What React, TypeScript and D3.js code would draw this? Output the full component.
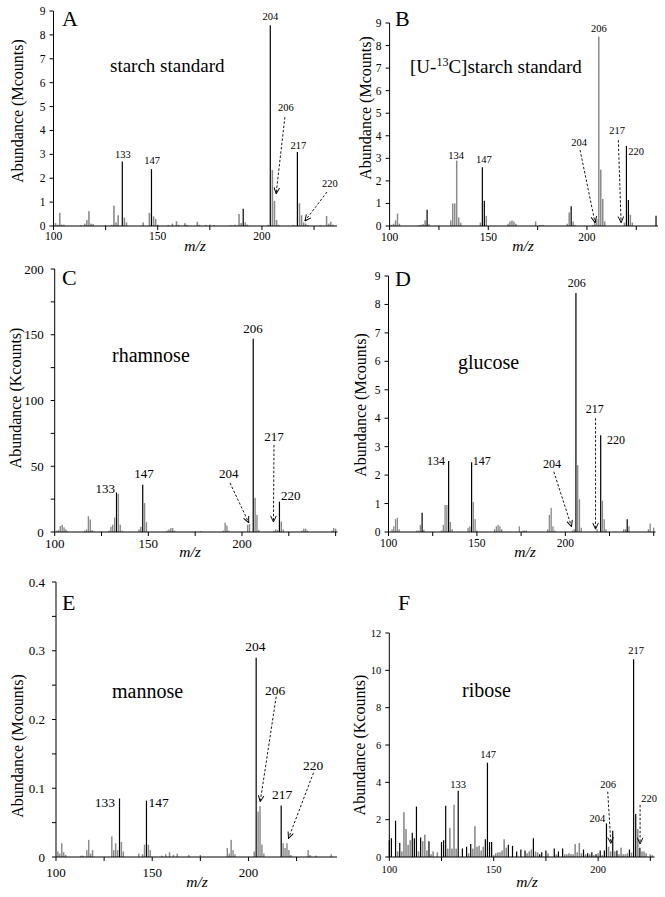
import React from "react";
import * as d3 from "d3";

type Pt = [number, number];
type Anchor = "start" | "middle" | "end";
interface Ann { text: string; mz: number; v: number; anchor?: Anchor }
interface Arrow { from: Pt; to: Pt }

// ---------- DATA (m/z, abundance) ----------
const aGrey: Pt[] = [[101,0.12],[102,0.05],[103,0.55],[104,0.06],[105,0.05],[113,0.03],[115,0.1],[116,0.25],[117,0.62],[118,0.1],[119,0.08],[125,0.03],[128,0.05],[129,0.85],[130,0.15],[131,0.45],[134,0.35],[135,0.15],[143,0.15],[146,0.55],[148,0.4],[149,0.3],[150,0.05],[155,0.04],[157,0.1],[159,0.2],[160,0.05],[163,0.12],[164,0.05],[169,0.18],[170,0.05],[173,0.04],[175,0.06],[177,0.04],[185,0.03],[187,0.05],[189,0.5],[190,0.12],[192,0.15],[193,0.06],[203,0.05],[205,2.35],[206,1.05],[207,0.25],[208,0.05],[215,0.04],[218,0.95],[219,0.45],[220,0.15],[221,0.1],[222,0.04],[228,0.04],[231,0.42],[232,0.1],[233,0.18],[234,0.05]];
const aBlack: Pt[] = [[133,2.7],[147,2.38],[191,0.72],[204,8.4],[217,3.1]];

const bGrey: Pt[] = [[101,0.05],[102,0.1],[103,0.25],[104,0.55],[105,0.1],[115,0.04],[116,0.05],[117,0.08],[118,0.25],[120,0.08],[131,0.25],[132,1.0],[133,1.0],[134,2.9],[135,0.38],[136,0.15],[146,0.15],[149,0.45],[160,0.1],[161,0.2],[162,0.25],[163,0.2],[164,0.1],[174,0.2],[176,0.04],[177,0.04],[178,0.04],[190,0.1],[191,0.6],[193,0.2],[194,0.05],[203,0.05],[204,0.22],[205,0.3],[206,8.4],[207,2.5],[208,1.2],[209,0.2],[219,0.15],[222,0.5],[223,0.15]];
const bBlack: Pt[] = [[119,0.72],[147,2.6],[148,1.12],[192,0.88],[220,3.55],[221,1.15],[235,0.45]];

const cGrey: Pt[] = [[101,1],[102,1.5],[103,4.5],[104,5.5],[105,3.5],[106,2],[107,0.5],[116,1],[117,2],[118,12],[119,9.5],[120,1.5],[121,0.5],[129,1],[130,4],[131,5.5],[132,11],[134,29],[135,5.5],[136,1],[145,2],[146,4],[148,22],[149,7.5],[160,1],[161,2],[162,3],[163,3],[164,1],[175,0.5],[178,0.5],[190,1],[191,7],[192,5],[193,1],[203,5.5],[204,6],[207,26],[208,13],[209,1.5],[217,1],[218,2],[219,1.5],[221,8],[222,2],[232,1],[233,2.5],[234,2.5],[235,1],[248,1],[249,3],[250,2.5]];
const cBlack: Pt[] = [[133,30],[147,36],[206,147],[220,23]];

const dGrey: Pt[] = [[102,0.1],[103,0.2],[104,0.45],[105,0.5],[106,0.1],[116,0.05],[117,0.05],[118,0.25],[120,0.08],[130,0.05],[131,0.25],[132,0.95],[133,0.95],[135,0.35],[136,0.1],[145,0.15],[146,0.2],[148,1.05],[149,0.45],[150,0.05],[160,0.1],[161,0.2],[162,0.25],[163,0.2],[164,0.1],[174,0.2],[176,0.05],[177,0.05],[178,0.05],[190,0.1],[191,0.6],[192,0.85],[193,0.2],[194,0.05],[204,0.05],[205,0.1],[207,2.35],[208,1.15],[209,0.15],[218,0.1],[221,1.1],[222,0.45],[223,0.1],[233,0.1],[234,0.1],[236,0.2],[247,0.1],[248,0.3],[250,0.15]];
const dBlack: Pt[] = [[119,0.68],[134,2.5],[147,2.45],[206,8.4],[220,3.4],[235,0.45]];

const eGrey: Pt[] = [[101,0.008],[102,0.005],[103,0.02],[104,0.007],[105,0.003],[113,0.002],[114,0.002],[116,0.01],[117,0.025],[118,0.005],[119,0.01],[129,0.03],[130,0.01],[131,0.02],[132,0.01],[134,0.022],[135,0.008],[143,0.005],[145,0.004],[146,0.018],[148,0.018],[149,0.01],[155,0.002],[157,0.004],[159,0.007],[161,0.003],[163,0.005],[169,0.003],[175,0.003],[189,0.013],[190,0.005],[191,0.025],[192,0.01],[193,0.004],[203,0.008],[205,0.066],[206,0.074],[207,0.018],[208,0.005],[218,0.02],[219,0.013],[220,0.02],[221,0.01],[222,0.003],[231,0.01],[232,0.003],[235,0.002],[243,0.004]];
const eBlack: Pt[] = [[133,0.085],[147,0.082],[204,0.29],[217,0.075]];

const fGrey: Pt[] = [[104,0.3],[106,0.3],[107,2.4],[108,1.5],[109,0.65],[110,0.9],[114,0.3],[116,0.85],[117,1.2],[118,0.35],[120,0.15],[121,0.3],[123,0.25],[128,0.45],[129,1.55],[130,0.45],[131,2.8],[132,0.45],[138,0.2],[140,0.45],[141,1.65],[142,0.55],[143,0.6],[144,0.35],[145,0.55],[150,0.1],[151,0.2],[152,0.25],[153,0.25],[154,0.35],[155,0.95],[156,0.5],[166,0.2],[167,0.3],[168,0.4],[170,0.3],[171,0.25],[176,0.2],[180,0.15],[184,0.15],[185,0.15],[186,0.2],[187,0.15],[188,0.15],[189,0.7],[190,0.25],[191,0.75],[192,0.2],[194,0.15],[196,0.15],[198,0.1],[200,0.2],[202,0.1],[205,0.55],[206,0.3],[208,0.3],[210,0.15],[211,0.5],[212,0.15],[213,0.15],[214,0.2],[216,0.25],[219,1.5],[221,0.3],[222,0.3],[223,0.2],[225,0.15],[226,0.1]];
const fBlack: Pt[] = [[100,0.9],[101,1.0],[103,1.95],[105,0.75],[111,1.3],[112,1.0],[113,2.7],[115,1.05],[119,0.85],[125,0.8],[126,0.9],[127,2.75],[133,3.55],[135,0.45],[137,0.55],[139,0.7],[146,0.95],[147,5.05],[148,0.8],[149,0.8],[157,0.65],[159,0.6],[161,0.3],[163,0.4],[165,0.35],[169,1.0],[172,0.15],[173,0.25],[175,0.35],[179,0.45],[181,0.3],[183,0.45],[193,0.4],[195,0.2],[197,0.25],[199,0.15],[201,0.35],[203,0.35],[204,1.8],[207,1.4],[209,0.35],[215,0.4],[217,10.6],[218,2.3],[220,0.5]];

// ---------- TICKS ----------
const xTicks225 = [100, 125, 150, 175, 200, 225];
const xTicks250 = [100, 125, 150, 175, 200, 225, 250];
const xTickLabels = [100, 150, 200];
const yTicksM9 = [0, 1, 2, 3, 4, 5, 6, 7, 8, 9];
const yTicksC = [0, 50, 100, 150, 200];
const yMinorC = [25, 75, 125, 175];
const yTicksE = [0, 0.1, 0.2, 0.3, 0.4];
const yMinorE = [0.05, 0.15, 0.25, 0.35];
const yTicksF = [0, 2, 4, 6, 8, 10, 12];

// ---------- ANNOTATIONS (data coordinates) ----------
const aAnns: Ann[] = [
  { text: "133", mz: 133.3, v: 2.85 }, { text: "147", mz: 147.3, v: 2.6 },
  { text: "204", mz: 204, v: 8.62 }, { text: "217", mz: 217.5, v: 3.22 },
  { text: "206", mz: 211.5, v: 4.81 }, { text: "220", mz: 232.6, v: 1.63 },
];
const aArrows: Arrow[] = [{ from: [211, 4.56], to: [206.8, 1.35] }, { from: [231.2, 1.42], to: [220.6, 0.21] }];

const bAnns: Ann[] = [
  { text: "134", mz: 133.7, v: 2.97 }, { text: "147", mz: 147.8, v: 2.79 },
  { text: "206", mz: 206.1, v: 8.6 }, { text: "204", mz: 196, v: 3.55 },
  { text: "217", mz: 215.3, v: 4.08 }, { text: "220", mz: 220.9, v: 3.15, anchor: "start" },
];
const bArrows: Arrow[] = [{ from: [196.5, 3.37], to: [204.1, 0.15] }, { from: [215.9, 3.81], to: [217.3, 0.15] }];

const cAnns: Ann[] = [
  { text: "206", mz: 205.9, v: 151 }, { text: "217", mz: 217.1, v: 69.2 },
  { text: "204", mz: 193, v: 41 }, { text: "147", mz: 147.7, v: 41 },
  { text: "133", mz: 132.2, v: 29.7, anchor: "end" }, { text: "220", mz: 220.8, v: 24.3, anchor: "start" },
];
const cArrows: Arrow[] = [{ from: [193.6, 37.3], to: [203.6, 7.1] }, { from: [217.1, 66.2], to: [216.8, 7.6] }];

const dAnns: Ann[] = [
  { text: "206", mz: 206.5, v: 8.62 }, { text: "217", mz: 216.7, v: 4.18 },
  { text: "220", mz: 223.6, v: 3.09, anchor: "start" }, { text: "204", mz: 192.4, v: 2.25 },
  { text: "134", mz: 131.9, v: 2.36, anchor: "end" }, { text: "147", mz: 147.7, v: 2.36, anchor: "start" },
];
const dArrows: Arrow[] = [{ from: [193.5, 2.12], to: [203.5, 0.19] }, { from: [217.1, 4.0], to: [217.1, 0.1] }];

const eAnns: Ann[] = [
  { text: "204", mz: 203.6, v: 0.2996 }, { text: "206", mz: 213.9, v: 0.2356 },
  { text: "220", mz: 233.6, v: 0.1265 }, { text: "217", mz: 217.5, v: 0.0844 },
  { text: "133", mz: 130.7, v: 0.0727, anchor: "end" }, { text: "147", mz: 148, v: 0.0727, anchor: "start" },
];
const eArrows: Arrow[] = [{ from: [214.4, 0.2332], to: [206.1, 0.0804] }, { from: [233.8, 0.1226], to: [220.8, 0.0272] }];

const fAnns: Ann[] = [
  { text: "147", mz: 147.3, v: 5.31 }, { text: "133", mz: 132.9, v: 3.7 },
  { text: "217", mz: 218.2, v: 10.88 }, { text: "204", mz: 203.4, v: 1.88, anchor: "end" },
  { text: "206", mz: 204.8, v: 3.7 }, { text: "220", mz: 224.4, v: 2.95 },
];
const fArrows: Arrow[] = [{ from: [204.6, 3.5], to: [206.1, 0.73] }, { from: [220.1, 2.79], to: [220.1, 0.7] }];

const FONT = "'Liberation Serif','Times New Roman',Times,serif";

interface PanelCfg {
  letter: string; letterPos: Pt;
  title: React.ReactNode; titlePos: Pt; titleSize: number;
  grey: Pt[]; black: Pt[];
  xDomain: Pt; xRange: Pt; yDomain: Pt; yRange: Pt;
  xTicks: number[]; yTicks: number[]; yMinor: number[];
  yFmt: (d: number) => string;
  tickFont: number; yGap: number; xLabDy: number;
  yLabel: string; yLabelPos: Pt; mzPos: Pt;
  anns: Ann[]; arrows: Arrow[]; annFont: number;
}

const panels: PanelCfg[] = [
  {
    letter: "A", letterPos: [62, 26], title: "starch standard", titlePos: [110, 72], titleSize: 19,
    grey: aGrey, black: aBlack, xDomain: [100, 236], xRange: [53.5, 337], yDomain: [0, 9], yRange: [226, 11],
    xTicks: xTicks225, yTicks: yTicksM9, yMinor: [], yFmt: d => String(d), tickFont: 11.5, yGap: 8, xLabDy: 14,
    yLabel: "Abundance (Mcounts)", yLabelPos: [17, 111], mzPos: [195, 251], anns: aAnns, arrows: aArrows, annFont: 10.5,
  },
  {
    letter: "B", letterPos: [395, 26],
    title: (<><tspan>[U-</tspan><tspan fontSize={12} dy={-7}>13</tspan><tspan dy={7}>C]starch standard</tspan></>),
    titlePos: [410, 73], titleSize: 19,
    grey: bGrey, black: bBlack, xDomain: [100, 236], xRange: [389.6, 658], yDomain: [0, 9], yRange: [226, 23],
    xTicks: xTicks225, yTicks: yTicksM9, yMinor: [], yFmt: d => String(d), tickFont: 11.5, yGap: 8, xLabDy: 15,
    yLabel: "Abundance (Mcounts)", yLabelPos: [365, 108], mzPos: [523, 251], anns: bAnns, arrows: bArrows, annFont: 10.5,
  },
  {
    letter: "C", letterPos: [62, 285], title: "rhamnose", titlePos: [112, 362], titleSize: 20,
    grey: cGrey, black: cBlack, xDomain: [100, 251], xRange: [54.7, 337.5], yDomain: [0, 200], yRange: [532, 269],
    xTicks: xTicks250, yTicks: yTicksC, yMinor: yMinorC, yFmt: d => String(d), tickFont: 13, yGap: 11, xLabDy: 15.5,
    yLabel: "Abundance (Kcounts)", yLabelPos: [15, 398], mzPos: [190, 557], anns: cAnns, arrows: cArrows, annFont: 13,
  },
  {
    letter: "D", letterPos: [395, 286], title: "glucose", titlePos: [458, 369], titleSize: 20,
    grey: dGrey, black: dBlack, xDomain: [100, 251], xRange: [388.5, 655.5], yDomain: [0, 9], yRange: [532, 276],
    xTicks: xTicks250, yTicks: yTicksM9, yMinor: [], yFmt: d => String(d), tickFont: 11.5, yGap: 8, xLabDy: 15,
    yLabel: "Abundance (Mcounts)", yLabelPos: [360, 405], mzPos: [525, 557], anns: dAnns, arrows: dArrows, annFont: 12,
  },
  {
    letter: "E", letterPos: [62, 610], title: "mannose", titlePos: [112, 698], titleSize: 20,
    grey: eGrey, black: eBlack, xDomain: [100, 246], xRange: [56, 337], yDomain: [0, 0.4], yRange: [857, 582],
    xTicks: xTicks225, yTicks: yTicksE, yMinor: yMinorE, yFmt: d => (d === 0 ? "0" : d3.format(".1f")(d)), tickFont: 13, yGap: 11, xLabDy: 20,
    yLabel: "Abundance (Mcounts)", yLabelPos: [17, 746], mzPos: [197, 887], anns: eAnns, arrows: eArrows, annFont: 13.5,
  },
  {
    letter: "F", letterPos: [398, 610], title: "ribose", titlePos: [462, 697], titleSize: 20,
    grey: fGrey, black: fBlack, xDomain: [100, 227], xRange: [389.3, 654.5], yDomain: [0, 12], yRange: [857, 633],
    xTicks: xTicks225, yTicks: yTicksF, yMinor: [], yFmt: d => String(d), tickFont: 10.5, yGap: 8, xLabDy: 16,
    yLabel: "Abundance (Kcounts)", yLabelPos: [359, 745], mzPos: [527, 887], anns: fAnns, arrows: fArrows, annFont: 10.5,
  },
];

function Panel({ p }: { p: PanelCfg }) {
  const x = d3.scaleLinear().domain(p.xDomain).range(p.xRange);
  const y = d3.scaleLinear().domain(p.yDomain).range(p.yRange);
  const unit = x(101) - x(100);
  const bw = Math.max(1, unit * 0.75);
  const y0 = y(0);
  const [xa, xb] = p.xRange;
  const line = d3.line<Pt>().x(d => x(d[0])).y(d => y(d[1]));
  return (
    <g fontFamily={FONT}>
      {p.grey.map(([m, v], i) => (
        <rect key={"g" + i} x={x(m) - bw / 2} y={y(v)} width={bw} height={Math.max(0.6, y0 - y(v))} fill="#8a8a8a" />
      ))}
      {p.black.map(([m, v], i) => (
        <line key={"b" + i} x1={x(m)} x2={x(m)} y1={y0} y2={y(v)} stroke="#000" strokeWidth={1.2} />
      ))}
      {/* axes */}
      <line x1={xa} x2={xb} y1={y0} y2={y0} stroke="#000" strokeWidth={1} />
      <line x1={xa} x2={xa} y1={y0} y2={p.yRange[1]} stroke="#000" strokeWidth={1} />
      {p.xTicks.map(t => (
        <line key={"xt" + t} x1={x(t)} x2={x(t)} y1={y0} y2={y0 + 4} stroke="#000" strokeWidth={1} />
      ))}
      {xTickLabels.map(t => (
        <text key={"xl" + t} x={x(t)} y={y0 + p.xLabDy} textAnchor="middle" fontSize={p.tickFont}>{t}</text>
      ))}
      {p.yTicks.map(t => (
        <g key={"yt" + t}>
          <line x1={xa - 4} x2={xa} y1={y(t)} y2={y(t)} stroke="#000" strokeWidth={1} />
          <text x={xa - p.yGap} y={y(t)} dy="0.35em" textAnchor="end" fontSize={p.tickFont}>{p.yFmt(t)}</text>
        </g>
      ))}
      {p.yMinor.map(t => (
        <line key={"ym" + t} x1={xa - 4} x2={xa} y1={y(t)} y2={y(t)} stroke="#000" strokeWidth={1} />
      ))}
      {/* labels */}
      <text transform={`translate(${p.yLabelPos[0]},${p.yLabelPos[1]}) rotate(-90)`} textAnchor="middle" dy="0.35em" fontSize={16}>{p.yLabel}</text>
      <text x={p.mzPos[0]} y={p.mzPos[1]} textAnchor="middle" fontSize={15.5} fontStyle="italic">m/z</text>
      <text x={p.letterPos[0]} y={p.letterPos[1]} fontSize={22}>{p.letter}</text>
      <text x={p.titlePos[0]} y={p.titlePos[1]} fontSize={p.titleSize}>{p.title}</text>
      {p.anns.map((a, i) => (
        <text key={"a" + i} x={x(a.mz)} y={y(a.v)} textAnchor={a.anchor || "middle"} fontSize={p.annFont}>{a.text}</text>
      ))}
      {p.arrows.map((a, i) => (
        <path key={"ar" + i} d={line([a.from, a.to]) || ""} fill="none" stroke="#000" strokeWidth={0.9}
          strokeDasharray="2.5,1.8" markerEnd="url(#arrowHead)" />
      ))}
    </g>
  );
}

export default function App() {
  return (
    <svg width={665} height={897} viewBox="0 0 665 897"
      style={{ position: "absolute", left: 0, top: 0, background: "#fff" }}>
      <defs>
        <marker id="arrowHead" viewBox="0 0 8 8" refX={7.5} refY={4} markerWidth={7} markerHeight={7}
          markerUnits="userSpaceOnUse" orient="auto">
          <path d="M0.5,0.8 L7.5,4 L0.5,7.2" fill="none" stroke="#000" strokeWidth={1.1} strokeDasharray="none" />
        </marker>
      </defs>
      <rect x={0} y={0} width={665} height={897} fill="#fff" />
      {panels.map(p => <Panel key={p.letter} p={p} />)}
    </svg>
  );
}
